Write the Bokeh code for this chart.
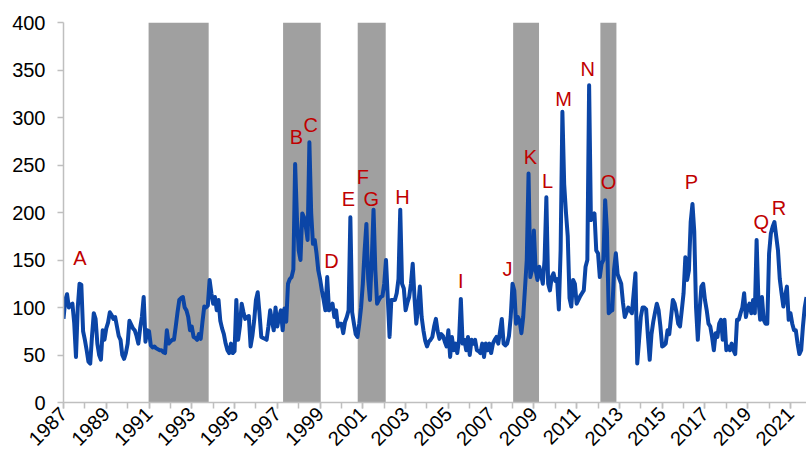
import math
import pandas as pd
from bokeh.plotting import figure
from bokeh.models import Range1d, FixedTicker, ColumnDataSource
from bokeh.embed import file_html
from bokeh.resources import INLINE
from bokeh.core.properties import value

# Monthly index values, January 1987 onwards (one row per year)
VALUES = [
    88, 108, 114, 100, 103, 104, 84, 48, 100, 125, 124, 75,      # 1987
    66, 55, 43, 41, 70, 94, 88, 62, 50, 45, 76, 66,              # 1988
    78, 84, 95, 92, 88, 90, 80, 70, 66, 50, 46, 52,              # 1989
    62, 86, 82, 78, 76, 70, 62, 78, 90, 111, 64, 76,             # 1990
    75, 60, 58, 59, 57, 56, 55, 55, 53, 52, 76, 62,              # 1991
    64, 66, 66, 80, 95, 108, 110, 111, 100, 97, 90, 76,          # 1992
    80, 69, 68, 66, 72, 67, 85, 101, 100, 102, 129, 115,         # 1993
    104, 111, 97, 108, 86, 78, 72, 62, 55, 52, 62, 52,           # 1994
    54, 108, 66, 80, 104, 95, 88, 90, 91, 59, 70, 86,            # 1995
    108, 116, 94, 69, 68, 67, 66, 80, 97, 86, 76, 100,           # 1996
    80, 90, 97, 76, 99, 85, 125, 130, 132, 140, 251, 195,        # 1997
    160, 150, 199, 195, 185, 171, 274, 200, 167, 171, 157, 139,  # 1998
    130, 118, 108, 97, 132, 97, 100, 104, 90, 97, 80, 83,        # 1999
    83, 73, 85, 90, 97, 195, 95, 83, 72, 69, 83, 100,            # 2000
    125, 160, 188, 130, 108, 150, 203, 140, 104, 108, 111, 112,  # 2001
    125, 150, 110, 69, 108, 108, 108, 115, 130, 203, 125, 120,   # 2002
    97, 105, 111, 125, 146, 110, 83, 100, 122, 90, 76, 65,       # 2003
    59, 64, 66, 69, 80, 88, 75, 67, 72, 70, 64, 59,              # 2004
    76, 48, 69, 55, 62, 52, 66, 109, 62, 66, 55, 69,             # 2005
    50, 66, 62, 66, 55, 54, 52, 62, 48, 62, 55, 62,              # 2006
    52, 62, 66, 69, 62, 75, 88, 62, 60, 62, 70, 90,              # 2007
    125, 118, 83, 90, 86, 73, 90, 120, 150, 241, 132, 140,       # 2008
    181, 139, 129, 143, 135, 125, 150, 216, 125, 118, 132, 136,  # 2009
    128, 130, 98, 160, 306, 230, 200, 175, 110, 101, 129, 125,   # 2010
    104, 108, 112, 115, 118, 143, 150, 334, 192, 195, 199, 160,  # 2011
    157, 132, 146, 150, 213, 181, 94, 96, 97, 140, 157, 135,     # 2012
    130, 125, 105, 90, 95, 100, 97, 94, 115, 136, 41, 65,        # 2013
    90, 100, 100, 98, 70, 45, 72, 85, 95, 104, 97, 80,           # 2014
    59, 60, 62, 76, 72, 90, 108, 104, 95, 83, 80, 97,            # 2015
    115, 153, 129, 139, 190, 209, 180, 100, 66, 97, 122, 125,    # 2016
    108, 97, 83, 80, 69, 55, 73, 69, 83, 87, 66, 87,             # 2017
    55, 59, 55, 62, 55, 51, 87, 87, 94, 100, 115, 90,            # 2018
    100, 104, 94, 108, 94, 171, 108, 87, 111, 87, 83, 83,        # 2019
    157, 178, 185, 190, 175, 160, 130, 115, 101, 112, 122, 87,   # 2020
    94, 83, 76, 76, 62, 51, 55, 80, 100, 111,                    # 2021
]

# Shaded periods (decimal years)
SHADE_START = [1990.98, 1997.27, 2000.76, 2008.03, 2012.11]
SHADE_END = [1993.79, 1999.03, 2002.07, 2009.24, 2012.86]

# Event labels (decimal year, index level)
LABEL_TEXT = list("ABCDEFGHIJKLMNOPQR")
LABEL_X = [1987.77, 1997.89, 1998.56, 1999.53, 2000.32, 2001.00, 2001.40, 2002.85, 2005.58,
           2007.76, 2008.84, 2009.64, 2010.39, 2011.52, 2012.49, 2016.37, 2019.63, 2020.46]
LABEL_Y = [152, 280, 292, 149, 214, 237, 214, 216, 128,
           141, 258, 233, 320, 351, 232, 232, 190, 205]

# Axis ticks
Y_TICKS = list(range(0, 401, 50))
X_LABEL_YEARS = list(range(1987, 2022, 2))
X_ALL_YEARS = list(range(1987, 2022))

dates = pd.date_range("1987-01-01", periods=len(VALUES), freq="MS")
xs = [d.year + (d.month - 1) / 12.0 for d in dates]
src = ColumnDataSource(dict(x=xs, y=VALUES))

FONT = "Liberation Sans"
AXIS_COLOR = "#BFBFBF"

p = figure(width=806, height=462,
           x_range=Range1d(1987, xs[-1]), y_range=Range1d(0, 400),
           output_backend="svg", toolbar_location=None,
           min_border_left=63, min_border_right=0, min_border_top=22, min_border_bottom=60)
p.outline_line_color = None
p.grid.visible = False
p.background_fill_color = "white"
p.border_fill_color = "white"

p.quad(left=SHADE_START, right=SHADE_END, bottom=0, top=400,
       fill_color="#A0A0A0", line_color=None)
p.line("x", "y", source=src, line_color="#0B45A6", line_width=4, line_join="round")
p.text(x=LABEL_X, y=LABEL_Y, text=LABEL_TEXT, text_font=value(FONT), text_font_size="20px",
       text_color="#C00000", text_align="center", text_baseline="middle")

for ax in (p.xaxis, p.yaxis):
    ax.axis_line_color = AXIS_COLOR
    ax.axis_line_width = 1.5
    ax.major_tick_line_color = AXIS_COLOR
    ax.major_tick_line_width = 1.5
    ax.major_tick_out = 6
    ax.major_tick_in = 0
    ax.major_label_text_font = FONT
    ax.major_label_text_font_size = "20px"
    ax.major_label_text_color = "#000000"

p.yaxis.ticker = FixedTicker(ticks=Y_TICKS)
p.yaxis.minor_tick_line_color = None
p.yaxis.major_label_standoff = 12

p.xaxis.ticker = FixedTicker(ticks=X_LABEL_YEARS, minor_ticks=X_ALL_YEARS)
p.xaxis.minor_tick_line_color = AXIS_COLOR
p.xaxis.minor_tick_line_width = 1.5
p.xaxis.minor_tick_out = 6
p.xaxis.minor_tick_in = 0
p.xaxis.major_label_orientation = math.pi / 4
p.xaxis.major_label_standoff = 2

open("out.html", "w").write(file_html(p, INLINE))
